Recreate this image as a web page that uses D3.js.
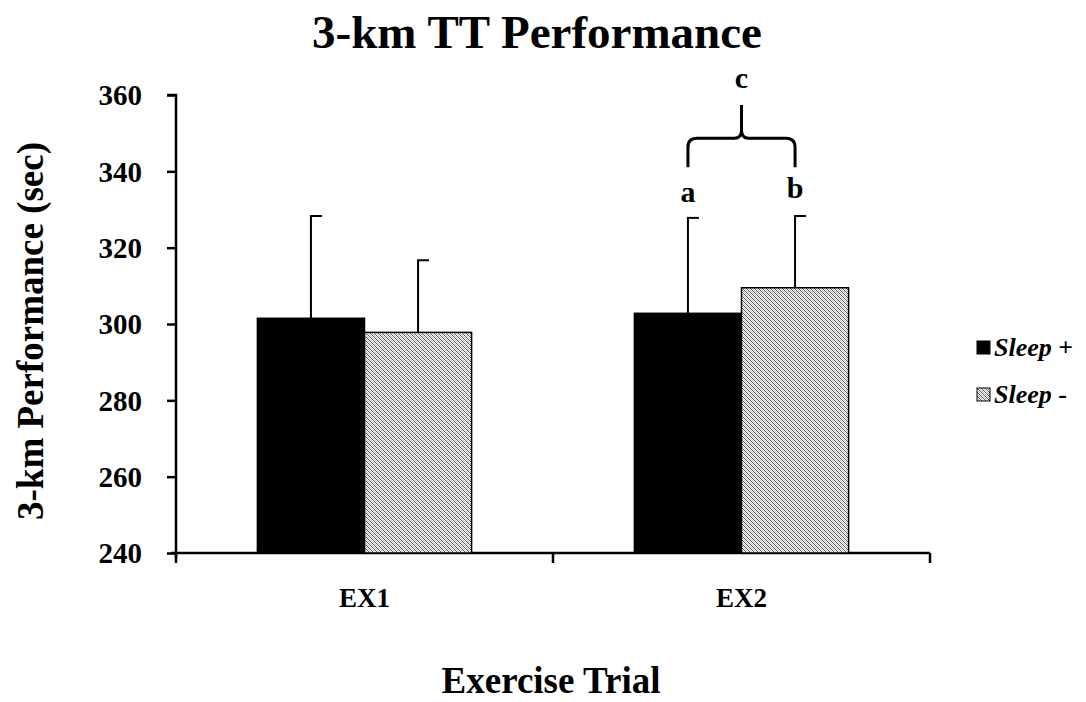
<!DOCTYPE html>
<html>
<head>
<meta charset="utf-8">
<script src="https://cdn.jsdelivr.net/npm/d3@7"></script>
<style>
  body { margin: 0; background: #fff; }
  text { font-family: "Liberation Serif", "Times New Roman", serif; font-weight: bold; fill: #000; }
</style>
</head>
<body>
<svg width="1086" height="702"></svg>
<script>
var trials = ["EX1", "EX2"];
var groups = ["Sleep +", "Sleep -"];
var means = [[301.5, 297.8], [302.8, 309.5]];
var errors = [[26.8, 18.9], [25.0, 18.8]];
var yTicks = [240, 260, 280, 300, 320, 340, 360];
var sigLabels = ["a", "b", "c"];

var svg = d3.select("svg");
var margin = {left: 176, right: 156, top: 95, bottom: 149};
var width = 1086 - margin.left - margin.right;
var height = 702 - margin.top - margin.bottom;

// dotted diagonal fill for the Sleep - bars
var defs = svg.append("defs");
var pat = defs.append("pattern")
  .attr("id", "hatch")
  .attr("patternUnits", "userSpaceOnUse")
  .attr("width", 4).attr("height", 4);
pat.append("rect").attr("width", 4).attr("height", 4).attr("fill", "#fff");
[[0, 0], [1, 1], [2, 2], [3, 3]].forEach(function(p) {
  pat.append("rect").attr("x", p[0]).attr("y", p[1]).attr("width", 1).attr("height", 1).attr("fill", "#555");
  pat.append("rect").attr("x", (p[0] + 2) % 4).attr("y", p[1]).attr("width", 1).attr("height", 1).attr("fill", "#bbb");
});

var g = svg.append("g").attr("transform", "translate(" + margin.left + "," + margin.top + ")");

var x0 = d3.scaleBand().domain(trials).range([0, width]);
var x1 = d3.scaleBand().domain(groups).range([0, x0.bandwidth()]).paddingOuter(0.76);
var y = d3.scaleLinear().domain([240, 360]).range([height, 0]);

// y axis
var yAxis = g.append("g")
  .call(d3.axisLeft(y).tickValues(yTicks).tickSize(9).tickPadding(25));
yAxis.select(".domain").attr("stroke-width", 2.5).attr("d", "M0," + (height + 5) + "V0H-9");
yAxis.selectAll(".tick line").attr("stroke-width", 2.5);
yAxis.selectAll(".tick text").style("font-size", "29px").attr("dy", "0.34em");

// x axis
var xAxis = g.append("g").attr("transform", "translate(0," + height + ")")
  .call(d3.axisBottom(x0).tickSize(0).tickPadding(35));
xAxis.select(".domain").attr("stroke-width", 2.5).attr("d", "M-5,0H" + width);
xAxis.selectAll(".tick text").style("font-size", "27px");
[0, width / 2, width].forEach(function(t) {
  xAxis.append("line").attr("x1", t).attr("x2", t).attr("y1", 0).attr("y2", 10)
    .attr("stroke", "#000").attr("stroke-width", 2.5);
});

// bars with error bars
var trialG = g.selectAll(".trial").data(trials).enter().append("g")
  .attr("transform", function(d) { return "translate(" + x0(d) + ",0)"; });

trialG.each(function(t, ti) {
  var sel = d3.select(this);
  groups.forEach(function(gr, gi) {
    var v = means[ti][gi], e = errors[ti][gi];
    var cx = x1(gr) + x1.bandwidth() / 2;
    sel.append("line")
      .attr("x1", cx).attr("x2", cx).attr("y1", y(v)).attr("y2", y(v + e))
      .attr("stroke", "#000").attr("stroke-width", 2);
    sel.append("line")
      .attr("x1", cx - 1).attr("x2", cx + 11).attr("y1", y(v + e)).attr("y2", y(v + e))
      .attr("stroke", "#000").attr("stroke-width", 2);
    sel.append("rect")
      .attr("x", x1(gr)).attr("y", y(v))
      .attr("width", x1.bandwidth()).attr("height", height - y(v))
      .attr("fill", gi === 0 ? "#000" : "url(#hatch)")
      .attr("stroke", "#000").attr("stroke-width", 1.5);
  });
});

// significance brace over EX2
var ax = x0("EX2") + x1("Sleep +") + x1.bandwidth() / 2;
var bx = x0("EX2") + x1("Sleep -") + x1.bandwidth() / 2;
var mx = (ax + bx) / 2;
var yb = y(341.1), yTop = y(348.7), yTip = y(357.4);
g.append("path")
  .attr("d", "M" + ax + "," + yb + "V" + (yTop + 9) + "Q" + ax + "," + yTop + " " + (ax + 9) + "," + yTop +
    "H" + (mx - 7) + "Q" + mx + "," + yTop + " " + mx + "," + (yTop - 8) + "V" + yTip +
    "M" + mx + "," + (yTop - 8) + "Q" + mx + "," + yTop + " " + (mx + 7) + "," + yTop +
    "H" + (bx - 9) + "Q" + bx + "," + yTop + " " + bx + "," + (yTop + 9) + "V" + yb)
  .attr("fill", "none").attr("stroke", "#000").attr("stroke-width", 3);
g.append("text").attr("x", ax).attr("y", y(332)).attr("text-anchor", "middle")
  .style("font-size", "30px").text(sigLabels[0]);
g.append("text").attr("x", bx).attr("y", y(333)).attr("text-anchor", "middle")
  .style("font-size", "30px").text(sigLabels[1]);
g.append("text").attr("x", mx).attr("y", y(361.8)).attr("text-anchor", "middle")
  .style("font-size", "30px").text(sigLabels[2]);

// title and axis titles
svg.append("text").attr("x", 537).attr("y", 48).attr("text-anchor", "middle")
  .style("font-size", "47px").text("3-km TT Performance");
svg.append("text").attr("transform", "translate(43,331) rotate(-90)").attr("text-anchor", "middle")
  .style("font-size", "37px").text("3-km Performance (sec)");
svg.append("text").attr("x", 551).attr("y", 693).attr("text-anchor", "middle")
  .style("font-size", "37px").text("Exercise Trial");

// legend
var legend = svg.append("g").attr("transform", "translate(977,341)");
groups.forEach(function(gr, i) {
  var row = legend.append("g").attr("transform", "translate(0," + (i * 47) + ")");
  row.append("rect").attr("width", 13).attr("height", 13)
    .attr("fill", i === 0 ? "#000" : "url(#hatch)").attr("stroke", "#000").attr("stroke-width", 1);
  var t = row.append("text").attr("x", 17).attr("y", 15).style("font-size", "26px");
  var parts = gr.split(" ");
  t.append("tspan").style("font-style", "italic").text(parts[0]);
  t.append("tspan").text(" " + parts[1]);
});
</script>
</body>
</html>
